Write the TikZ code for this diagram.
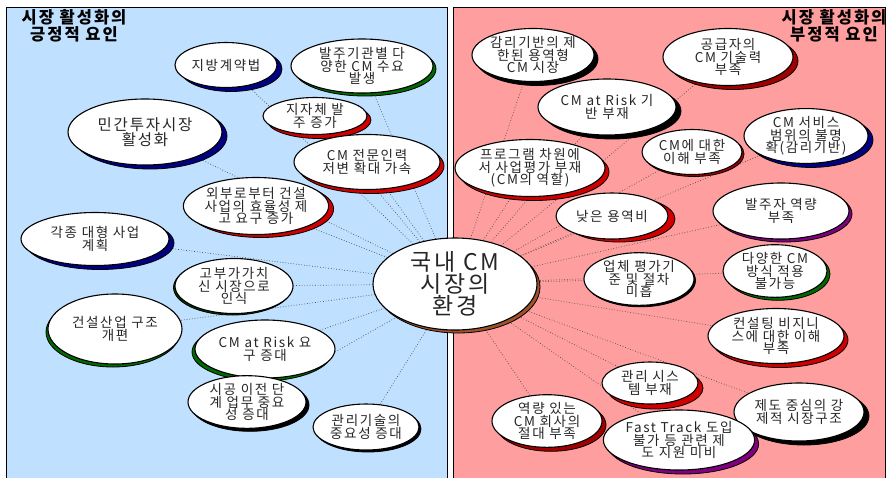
\documentclass[tikz,border=0pt]{standalone}
\usepackage{fontspec}
\setmainfont{Noto Sans CJK KR}[LetterSpace=12]
\usetikzlibrary{shapes.geometric,shadows}
\pgfdeclarelayer{panels}
\pgfdeclarelayer{links}
\pgfsetlayers{panels,links,main}
\definecolor{bluebg}{HTML}{C0E0FF}
\definecolor{redbg}{HTML}{FF9E9E}
\definecolor{shnavy}{HTML}{000080}
\definecolor{shgreen}{HTML}{006A00}
\definecolor{shdkgreen}{HTML}{003800}
\definecolor{shred}{HTML}{D00000}
\definecolor{shdkred}{HTML}{A00000}
\definecolor{shpurple}{HTML}{800080}
\definecolor{shbrown}{HTML}{A0522D}
\tikzset{
  bubble/.style={ellipse, draw=black, line width=1.1pt, fill=white, inner sep=0pt,
    align=center, text=black!85, font=\fontsize{13.5}{12.5}\selectfont},
  sz/.style 2 args={minimum width=#1pt, minimum height=#2pt},
  sh/.style n args={3}{general shadow={fill=#1, draw=black, line width=0.8pt,
    shadow xshift=#2pt, shadow yshift=#3pt}},
  link/.style={dotted, draw=black!70, line width=0.7pt},
  paneltitle/.style={font=\fontsize{16.5}{15}\bfseries\selectfont, align=center, inner sep=0pt},
}
\begin{document}
\begin{tikzpicture}[x=1pt,y=-1pt]
\useasboundingbox (0,0) rectangle (888,477);
\begin{pgfonlayer}{panels}
  \fill[white] (0,0) rectangle (888,477);
  \draw[fill=bluebg, line width=0.8pt] (6,7) rectangle (447,490);
  \draw[fill=redbg, line width=0.8pt] (453,7) rectangle (885,490);
\end{pgfonlayer}

\node[paneltitle] (tl) at (74,26) {시장 활성화의\\긍정적 요인};
\node[paneltitle] (tr) at (834,26) {시장 활성화의\\부정적 요인};

% left side
\node[bubble, sz={102}{45}, sh={shnavy}{5}{-4}] (l1) at (226,65) {지방계약법};
\node[bubble, sz={142}{54}, sh={shgreen}{3}{-3}] (l2) at (362,66) {발주기관별 다\\양한 CM 수요\\발생};
\node[bubble, sz={104}{37}, sh={shred}{4}{-4}] (l3) at (315,116) {지자체 발\\주 증가};
\node[bubble, sz={146}{55}, sh={shred}{4}{-4}] (l4) at (367,162) {CM 전문인력\\저변 확대 가속};
\node[bubble, sz={154}{66}, sh={shnavy}{5}{-4}, font=\fontsize{15.5}{15}\selectfont] (l5) at (145,132) {민간투자시장\\활성화};
\node[bubble, sz={144}{57}, sh={shred}{5}{-3}] (l6) at (256,206) {외부로부터 건설\\사업의 효율성 제\\고 요구 증가};
\node[bubble, sz={148}{53}, sh={shnavy}{5}{-4}] (l7) at (95,239) {각종 대형 사업\\계획};
\node[bubble, sz={118}{55}, sh={shdkgreen}{-1.5}{-1.5}] (l8) at (234,286) {고부가가치\\신 시장으로\\인식};
\node[bubble, sz={134}{70}, sh={shgreen}{-2}{-3}] (l9) at (115,329) {건설산업 구조\\개편};
\node[bubble, sz={140}{58}, sh={shgreen}{-3}{-3}] (l10) at (265,349) {CM at Risk 요\\구 증대};
\node[bubble, sz={118}{49}, sh={black}{3}{-3}] (l11) at (247,402) {시공 이전 단\\계 업무 중요\\성 증대};
\node[bubble, sz={106}{46}, sh={black}{2}{-2}] (l12) at (366,427) {관리기술의\\중요성 증대};

% right side
\node[bubble, sz={122}{53}, sh={black}{4}{-4}] (r1) at (533,55) {감리기반의 제\\한된 용역형\\CM 시장};
\node[bubble, sz={130}{57}, sh={shdkred}{5}{-4}] (r2) at (728,57) {공급자의\\CM 기술력\\부족};
\node[bubble, sz={138}{56}, sh={black}{5}{-4}] (r3) at (607,107) {CM at Risk 기\\반 부재};
\node[bubble, sz={124}{53}, sh={shnavy}{5}{-4}] (r4) at (806,136) {CM 서비스\\범위의 불명\\확(감리기반)};
\node[bubble, sz={100}{45}, sh={shdkred}{2}{-2}] (r5) at (692,152) {CM에 대한\\이해 부족};
\node[bubble, sz={150}{57}, sh={shred}{4}{-4}] (r6) at (530,168) {프로그램 차원에\\서 사업평가 부재\\(CM의 역할)};
\node[bubble, sz={112}{46}, sh={shred}{7}{-3}] (r7) at (612,216) {낮은 용역비};
\node[bubble, sz={136}{56}, sh={shpurple}{3}{-3}] (r8) at (781,211) {발주자 역량\\부족};
\node[bubble, sz={110}{47}, sh={black}{1.5}{-1.5}] (r9) at (639,279) {업체 평가기\\준 및 절차\\미흡};
\node[bubble, sz={104}{47}, sh={shgreen}{3}{-3}] (r10) at (775,271) {다양한 CM\\방식 적용\\불가능};
\node[bubble, sz={136}{55}, sh={shred}{4}{-4}] (r11) at (776,336) {컨설팅 비지니\\스에 대한 이해\\부족};
\node[bubble, sz={96}{42}, sh={shred}{5}{-5}] (r12) at (650,383) {관리 시스\\템 부재};
\node[bubble, sz={130}{58}, sh={black}{5}{-4}] (r13) at (799,412) {제도 중심의 강\\제적 시장구조};
\node[bubble, sz={110}{47}, sh={shdkred}{4}{-4}] (r14) at (547,421) {역량 있는\\CM 회사의\\절대 부족};
\node[bubble, sz={150}{60}, sh={shpurple}{4}{-4}] (r15) at (679,440) {Fast Track 도입\\불가 등 관련 제\\도 지원 미비};

% center
\node[bubble, sz={164}{92}, sh={shbrown}{3}{-3}, font=\fontsize{23}{22}\selectfont] (c) at (455,284) {국내 CM\\시장의\\환경};

\begin{pgfonlayer}{links}
  \foreach \n in {l1,l2,l3,l4,l5,l6,l7,l8,l9,l10,l11,l12,r1,r2,r3,r4,r5,r6,r7,r8,r9,r10,r11,r12,r13,r14,r15}
    \draw[link] (c) -- (\n);
\end{pgfonlayer}
\end{tikzpicture}
\end{document}
